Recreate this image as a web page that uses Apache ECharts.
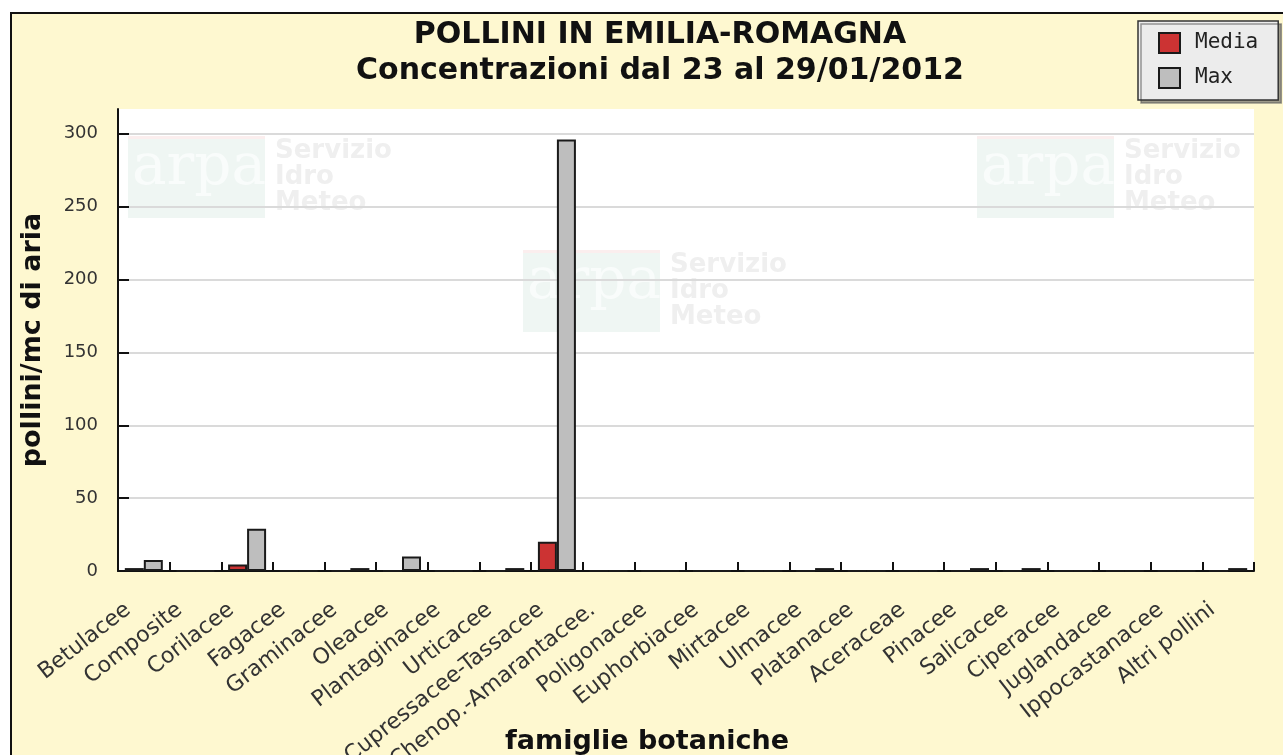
<!DOCTYPE html>
<html>
<head>
<meta charset="utf-8">
<script src="https://cdn.jsdelivr.net/npm/echarts@6/dist/echarts.min.js"></script>
<style>
  html, body { margin: 0; padding: 0; background: #ffffff; }
  #chart { width: 1283px; height: 755px; }
</style>
</head>
<body>
<div id="chart"></div>
<script>
// Weekly pollen concentrations by botanical family (pollini/mc di aria)
const categories = [
  'Betulacee', 'Composite', 'Corilacee', 'Fagacee', 'Graminacee', 'Oleacee',
  'Plantaginacee', 'Urticacee', 'Cupressacee-Tassacee', 'Chenop.-Amarantacee.',
  'Poligonacee', 'Euphorbiacee', 'Mirtacee', 'Ulmacee', 'Platanacee', 'Aceraceae',
  'Pinacee', 'Salicacee', 'Ciperacee', 'Juglandacee', 'Ippocastanacee', 'Altri pollini'
];
const mediaValues = [2, 0, 4.5, 0, 0, 0, 0, 0, 20, 0, 0, 0, 0, 0, 0, 0, 0, 0, 0, 0, 0, 0];
const maxValues   = [7.5, 0, 29, 0, 2, 10, 0, 2, 296, 0, 0, 0, 0, 2, 0, 0, 2, 2, 0, 0, 0, 2];
const yTicks = [0, 50, 100, 150, 200, 250, 300];
const yTop = 317;

const titleLines = ['POLLINI IN EMILIA-ROMAGNA', 'Concentrazioni dal 23 al 29/01/2012'];

const cream = '#fef8d0';
const font = 'DejaVu Sans';

// faint agency watermark (logo block + service name)
function watermark(x, y) {
  return {
    type: 'group', x: x, y: y, z: 1, silent: true,
    children: [
      { type: 'rect', shape: { x: 0, y: 2, width: 137, height: 80 },
        style: { fill: '#eff6f3' } },
      { type: 'rect', shape: { x: 0, y: 0, width: 137, height: 3 },
        style: { fill: '#fbeeee' } },
      { type: 'text', style: { x: 4, y: 4, text: 'arpa', font: '58px "DejaVu Serif"', fill: '#f9fcfb' } },
      { type: 'text', style: { x: 147, y: 2, text: 'Servizio\nIdro\nMeteo',
        font: 'bold 26px "DejaVu Sans"', fill: '#efefef', lineHeight: 26 } }
    ]
  };
}

const chart = echarts.init(document.getElementById('chart'), null, { renderer: 'canvas' });

chart.setOption({
  backgroundColor: '#ffffff',
  animation: false,
  textStyle: { fontFamily: font },
  title: {
    text: titleLines.join('\n'),
    left: 655,
    textAlign: 'center',
    top: 12,
    textStyle: { fontFamily: font, fontWeight: 'bold', fontSize: 30, color: '#111', lineHeight: 36 }
  },
  legend: {
    orient: 'vertical',
    left: 1138,
    top: 21,
    padding: [11, 20, 11, 20],
    itemWidth: 21,
    itemHeight: 20,
    itemGap: 13,
    icon: 'rect',
    backgroundColor: '#ececec',
    borderColor: '#333',
    borderWidth: 1.5,
    borderRadius: 0,
    shadowColor: 'rgba(90,90,90,0.6)',
    shadowOffsetX: 3,
    shadowOffsetY: 3,
    shadowBlur: 0,
    textStyle: { fontFamily: 'DejaVu Sans Mono', fontSize: 21, color: '#222', padding: [0, 0, 0, 10] },
    data: ['Media', 'Max']
  },
  graphic: [
    { type: 'rect', z: -10, silent: true,
      shape: { x: 11, y: 13, width: 1300, height: 780 },
      style: { fill: cream, stroke: '#111', lineWidth: 2 } },
    watermark(128, 136),
    watermark(523, 250),
    watermark(977, 136)
  ],
  grid: {
    left: 118, right: 29, top: 109, bottom: 184,
    outerBoundsMode: 'none',
    containLabel: false,
    show: true, backgroundColor: '#ffffff', borderWidth: 0
  },
  xAxis: {
    type: 'category',
    data: categories,
    name: 'famiglie botaniche',
    nameLocation: 'middle',
    nameGap: 157,
    nameMoveOverlap: false,
    nameTextStyle: { fontFamily: font, fontWeight: 'bold', fontSize: 27, color: '#111', padding: [0, 78, 0, 0] },
    axisLine: { lineStyle: { color: '#111', width: 2 } },
    axisTick: { show: true, inside: true, length: 9, interval: 0, lineStyle: { color: '#111', width: 2 } },
    axisLabel: { interval: 0, rotate: 38, margin: 24, padding: [0, 20, 0, 0], fontSize: 22, color: '#333', fontFamily: font, hideOverlap: false }
  },
  yAxis: {
    type: 'value',
    min: 0,
    max: yTop,
    interval: 50,
    name: 'pollini/mc di aria',
    nameLocation: 'middle',
    nameGap: 72,
    nameRotate: 90,
    nameTextStyle: { fontFamily: font, fontWeight: 'bold', fontSize: 27, color: '#111' },
    axisLine: { show: true, lineStyle: { color: '#111', width: 2 } },
    axisTick: { show: true, inside: true, length: 11, customValues: yTicks, lineStyle: { color: '#111', width: 2 } },
    axisLabel: { customValues: yTicks, margin: 20, fontSize: 18, color: '#333', fontFamily: font },
    splitLine: { show: true, showMinLine: false, lineStyle: { color: '#dadada', width: 2 } }
  },
  series: [
    {
      name: 'Media', type: 'bar', data: mediaValues,
      barWidth: 19, barGap: '0%', z: 3,
      itemStyle: { color: '#cc3333', borderColor: '#1a1a1a', borderWidth: 2 }
    },
    {
      name: 'Max', type: 'bar', data: maxValues,
      barWidth: 19, barGap: '0%', z: 3,
      itemStyle: { color: '#bebebe', borderColor: '#1a1a1a', borderWidth: 2 }
    }
  ]
});
</script>
</body>
</html>
